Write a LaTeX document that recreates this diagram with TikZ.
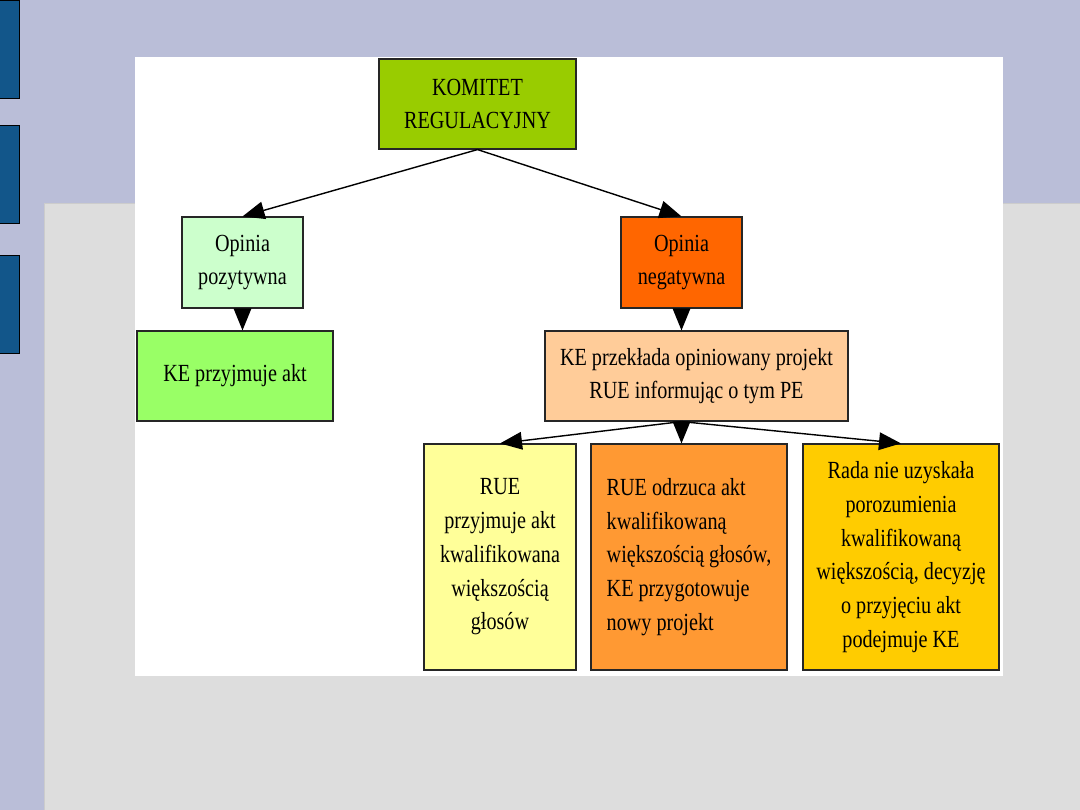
\documentclass[tikz,border=0pt]{standalone}
\usepackage{fontspec}
\setmainfont{Liberation Serif}[FakeStretch=0.82]
\usetikzlibrary{arrows.meta, positioning}
\definecolor{slidebg}{RGB}{186,190,216}
\definecolor{slidegrey}{RGB}{221,221,221}
\definecolor{barblue}{RGB}{18,86,138}
\definecolor{komitetgreen}{RGB}{153,204,0}
\definecolor{pozgreen}{RGB}{204,255,204}
\definecolor{aktgreen}{RGB}{153,255,102}
\definecolor{negorange}{RGB}{255,102,0}
\definecolor{peach}{RGB}{255,204,153}
\definecolor{paleyellow}{RGB}{255,255,153}
\definecolor{midorange}{RGB}{255,153,51}
\definecolor{gold}{RGB}{255,204,0}
\tikzset{
	box/.style={draw=black!85, line width=0.8pt, inner sep=2pt, align=center,
		font=\fontsize{17.5}{24}\selectfont},
	small/.style={box, minimum width=3.025cm, minimum height=2.275cm},
	wide/.style={box, minimum width=4.9cm, minimum height=2.25cm},
	tall/.style={box, minimum width=4.9cm, minimum height=5.65cm},
	arr/.style={-{Triangle[length=5.5mm, width=4.4mm]}, line width=1pt}
}

\begin{document}
\begin{tikzpicture}[x=0.025cm, y=-0.025cm]
	\useasboundingbox (0,0) rectangle (1080,810);
	
	% ==========================================
	% SLIDE BACKGROUND
	% ==========================================
	\fill[slidebg] (0,0) rectangle (1080,810);
	\filldraw[fill=slidegrey, draw=black!20] (44,203) rectangle (1081,811);
	\foreach \y in {0,125,255} \filldraw[fill=barblue, draw=black, line width=0.6pt] (-1,\y) rectangle (19,\y+98);
	\fill[white] (135,57) rectangle (1003,676);
	
	% ==========================================
	% TOP LEVEL
	% ==========================================
	\node[box, fill=komitetgreen, minimum width=4.925cm, minimum height=2.25cm] (komitet) at (477.5,104) {KOMITET\\REGULACYJNY};
	
	% --- positive branch ---
	\node[small, fill=pozgreen] (pozyt) at (242.5,262.5) {Opinia\\pozytywna};
	\node[wide, fill=aktgreen] (keakt) at (235,376) {KE przyjmuje akt};
	
	% --- negative branch ---
	\node[small, fill=negorange] (negat) at (681.5,262.5) {Opinia\\negatywna};
	\node[box, fill=peach, minimum width=7.575cm, minimum height=2.25cm] (przeklada) at (696.5,376) {KE przekłada opiniowany projekt\\RUE informując o tym PE};
	
	% ==========================================
	% OUTCOMES
	% ==========================================
	\node[tall, fill=paleyellow, minimum width=3.8cm] (rueprzyj) at (500,557) {RUE\\przyjmuje akt\\kwalifikowana\\większością\\głosów};
	\node[tall, fill=midorange, align=left] (rueodrz) at (689,557) {RUE odrzuca akt\\kwalifikowaną\\większością głosów,\\KE przygotowuje\\nowy projekt};
	\node[tall, fill=gold] (rada) at (901,557) {Rada nie uzyskała\\porozumienia\\kwalifikowaną\\większością, decyzję\\o przyjęciu akt\\podejmuje KE};
	
	% Connectors
	\draw[arr] (komitet.south) -- (pozyt.north);
	\draw[arr] (komitet.south) -- (negat.north);
	\draw[arr] (pozyt.south) -- (pozyt.south |- keakt.north);
	\draw[arr] (negat.south) -- (negat.south |- przeklada.north);
	\coordinate (split) at (negat.south |- przeklada.south);
	\draw[arr] (split) -- (rueprzyj.north);
	\draw[arr] (split) -- (split |- rueodrz.north);
	\draw[arr] (split) -- (rada.north);
	
\end{tikzpicture}
\end{document}
